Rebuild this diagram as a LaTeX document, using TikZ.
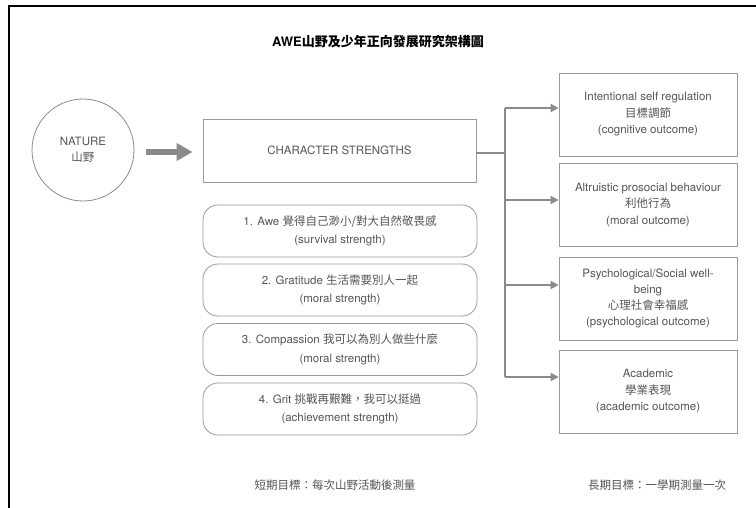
\documentclass[tikz,border=0pt]{standalone}
\usepackage{fontspec}
\setmainfont{TeX Gyre Heros}
\newfontfamily\cjk{Noto Sans CJK TC}
\usetikzlibrary{arrows.meta,calc}
\definecolor{txt}{HTML}{555555}
\definecolor{ln}{HTML}{8A8A8A}
\definecolor{bx}{HTML}{999999}
\begin{document}
\begin{tikzpicture}[x=1pt,y=-1pt,
  every node/.style={font=\fontsize{11.5}{16.5}\selectfont, text=txt, align=center, inner sep=0pt},
  sqbox/.style={draw=bx, line width=0.8pt},
  outbox/.style={sqbox, minimum width=178pt, minimum height=83pt},
  rbox/.style={draw=bx, line width=0.8pt, rounded corners=15pt, minimum width=274pt, minimum height=52pt, font=\fontsize{11.5}{18.5}\selectfont},
  fat/.style={draw=ln, line width=5.5pt, -{Triangle[length=16pt,width=17pt]}},
  conn/.style={draw=ln, line width=1.8pt},
  arr/.style={conn, -{Triangle[length=8pt,width=8pt]}},
  note/.style={font=\fontsize{11.5}{14}\selectfont\cjk}
]
\useasboundingbox (0,0) rectangle (756,508);
\draw[line width=2.2pt, line cap=rect] (9,508) -- (9,6) -- (757,6);

\node[font=\fontsize{13}{15}\selectfont\bfseries, text=black] (title) at (378,42) {AWE{\cjk\bfseries 山野及少年正向發展研究架構圖}};

\node[circle, draw=ln, line width=0.8pt, minimum size=102pt] (nat) at (83,150) {NATURE\\{\cjk 山野}};
\node[sqbox, minimum width=273pt, minimum height=63pt] (cs) at (339.5,150.5) {CHARACTER STRENGTHS};

\node[rbox] (s1) at (340,231) {1. Awe {\cjk 覺得自己渺小/對大自然敬畏感}\\(survival strength)};
\node[rbox] (s2) at (340,290) {2. Gratitude {\cjk 生活需要別人一起}\\(moral strength)};
\node[rbox] (s3) at (340,349.5) {3. Compassion {\cjk 我可以為別人做些什麼}\\(moral strength)};
\node[rbox] (s4) at (340,409) {4. Grit {\cjk 挑戰再艱難，我可以挺過}\\(achievement strength)};

\node[outbox] (o1) at (648,114.5) {Intentional self regulation\\{\cjk 目標調節}\\(cognitive outcome)};
\node[outbox] (o2) at (648,205) {Altruistic prosocial behaviour\\{\cjk 利他行為}\\(moral outcome)};
\node[outbox, font=\fontsize{11.5}{16}\selectfont] (o3) at (648,298.5) {Psychological/Social well-\\being\\{\cjk 心理社會幸福感}\\(psychological outcome)};
\node[outbox] (o4) at (648,391.5) {Academic\\{\cjk 學業表現}\\(academic outcome)};

\node[note] (n1) at (335,485) {短期目標：每次山野活動後測量};
\node[note] (n2) at (657,485) {長期目標：一學期測量一次};

% thick arrow
\draw[fat, shorten <=12pt, shorten >=10pt] ([yshift=-2pt]nat.east) -- ([yshift=-2pt]nat.east -| cs.west);

% branching connectors
\coordinate (sp) at (505,153);
\coordinate (a1) at ([yshift=6.5pt]o1.west);
\coordinate (a2) at ([yshift=5pt]o2.west);
\coordinate (a3) at ([yshift=13.5pt]o3.west);
\coordinate (a4) at ([yshift=14.5pt]o4.west);
\draw[conn] (sp -| cs.east) -- (sp);
\draw[conn] (sp |- a1) -- (sp |- a4);
\draw[arr] (sp |- a1) -- (a1);
\draw[arr] (sp |- a2) -- (a2);
\draw[arr] (sp |- a3) -- (a3);
\draw[arr] (sp |- a4) -- (a4);
\end{tikzpicture}
\end{document}
